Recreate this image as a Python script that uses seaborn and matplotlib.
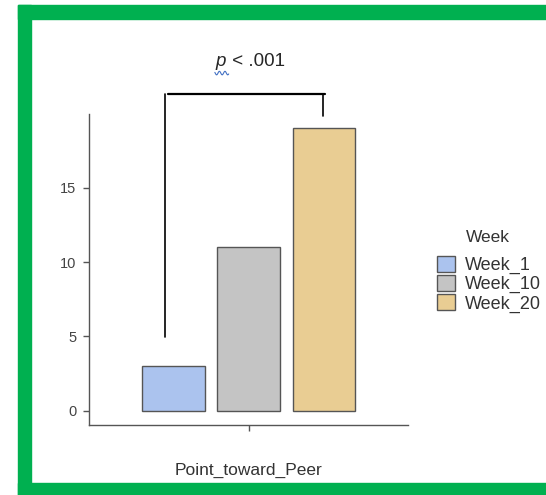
import numpy as np
import pandas as pd
import seaborn as sns
import matplotlib.pyplot as plt
from matplotlib.patches import Rectangle

# data
behavior = ["Point_toward_Peer"] * 3
weeks = ["Week_1", "Week_10", "Week_20"]
counts = [3, 11, 19]
week_colors = ["#ABC3EE", "#C4C4C4", "#E9CD93"]
y_ticks = [0, 5, 10, 15]

df = pd.DataFrame({"behavior": behavior, "Week": weeks, "count": counts})

sns.set_style("ticks")
plt.rcParams["font.family"] = ["Liberation Sans", "DejaVu Sans"]

fig = plt.figure(figsize=(5.46, 4.95), dpi=100)
ax = fig.add_axes([0.163, 0.1414, 0.5848, 0.6283])

sns.barplot(data=df, x="behavior", y="count", hue="Week",
            palette=week_colors, saturation=1, width=0.85, gap=0.17,
            edgecolor="#555555", linewidth=1.0, ax=ax)

ax.set_xlim(-0.6, 0.6)
ax.set_ylim(-0.95, 19.95)
ax.set_yticks(y_ticks)
ax.set_xticks([0])
ax.set_xticklabels([""])
ax.set_ylabel("")
ax.set_xlabel("Point_toward_Peer", fontsize=12.5, color="#333333", labelpad=18)
ax.tick_params(axis="both", length=4, width=1, color="#555555",
               labelsize=10.5, labelcolor="#444444", pad=5)
for side in ["top", "right"]:
    ax.spines[side].set_visible(False)
for side in ["left", "bottom"]:
    ax.spines[side].set_color("#555555")
    ax.spines[side].set_linewidth(1.0)

# significance bracket
ax.plot([-0.3125, -0.3125], [4.95, 21.32], color="black", lw=1.2, clip_on=False)
ax.plot([-0.303, 0.287], [21.32, 21.32], color="black", lw=1.6, clip_on=False)
ax.plot([0.279, 0.279], [21.32, 19.8], color="black", lw=1.2, clip_on=False)
ax.text(-0.125, 23.5, "p", style="italic", fontsize=13.5, ha="left", va="center",
        clip_on=False)
ax.text(-0.08, 23.5, " < .001", fontsize=13.5, ha="left", va="center", clip_on=False)
# spell-check squiggle under the p
sx = np.linspace(-0.127, -0.075, 30)
ax.plot(sx, 22.7 - 0.12 * np.sin(sx * 300), color="#4472C4", lw=0.8, clip_on=False)

handles, labels = ax.get_legend_handles_labels()
ax.legend(handles, labels, loc="upper left",
          bbox_to_anchor=(437 / 546, 1 - 256 / 495), bbox_transform=fig.transFigure,
          frameon=False, fontsize=13,
          handlelength=0.97, handleheight=0.97, handletextpad=0.6,
          labelspacing=0.05, borderaxespad=0, borderpad=0)
leg = ax.get_legend()
for t in leg.get_texts():
    t.set_color("#333333")
fig.text(466 / 546, 1 - 237 / 495, "Week", fontsize=12.5, color="#333333",
         ha="left", va="center")

# green frame around the screenshot
green = "#00B050"
fig.patches.append(Rectangle((18 / 546, 0), 13 / 546, 1 - 5 / 495,
                             transform=fig.transFigure, color=green))
fig.patches.append(Rectangle((18 / 546, 1 - 19 / 495), 1, 14 / 495,
                             transform=fig.transFigure, color=green))
fig.patches.append(Rectangle((18 / 546, 0), 1, 12 / 495,
                             transform=fig.transFigure, color=green))

fig.savefig("out.png", dpi=100, facecolor="white")
